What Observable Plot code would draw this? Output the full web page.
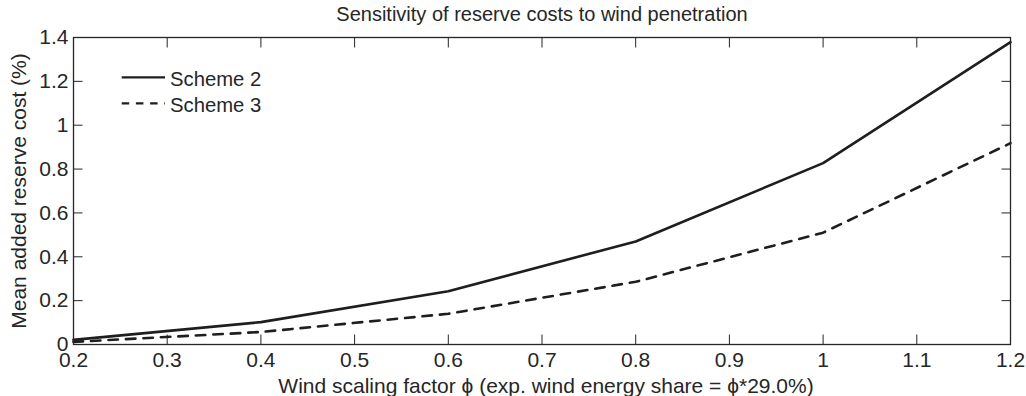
<!DOCTYPE html>
<html><head><meta charset="utf-8">
<script src="https://cdn.jsdelivr.net/npm/d3@7"></script>
<script src="https://cdn.jsdelivr.net/npm/@observablehq/plot@0.6"></script>
<style>
body{margin:0;background:#fff;}
#wrap{position:relative;width:1026px;height:396px;font-family:"Liberation Sans",Arial,Helvetica,sans-serif;color:#262626;}
</style></head><body><div id="wrap"></div>
<script>
const phi = [0.2, 0.4, 0.6, 0.8, 1.0, 1.2];
const scheme2 = [0.021, 0.102, 0.243, 0.470, 0.827, 1.379];
const scheme3 = [0.012, 0.057, 0.140, 0.286, 0.510, 0.918];
const seriesNames = ["Scheme 2", "Scheme 3"];
const xTicks = [0.2, 0.3, 0.4, 0.5, 0.6, 0.7, 0.8, 0.9, 1.0, 1.1, 1.2];
const yTicks = [0, 0.2, 0.4, 0.6, 0.8, 1.0, 1.2, 1.4];
const title = "Sensitivity of reserve costs to wind penetration";
const xLabel = "Wind scaling factor \u03D5 (exp. wind energy share = \u03D5*29.0%)";
const yLabel = "Mean added reserve cost (%)";

const ink = "#262626";
const lineInk = "#1e1e1e";
const dashes = {"Scheme 2": null, "Scheme 3": "9.5,8"};

const data = [];
phi.forEach((x, i) => {
  data.push({phi: x, cost: scheme2[i], series: seriesNames[0]});
  data.push({phi: x, cost: scheme3[i], series: seriesNames[1]});
});

const font = "'Liberation Sans', Arial, Helvetica, sans-serif";
const noText = () => "";

const chart = Plot.plot({
  width: 1026, height: 396,
  marginLeft: 73, marginRight: 16, marginTop: 37, marginBottom: 52,
  style: {fontFamily: font, fontSize: "21px", color: ink, background: "#fff", overflow: "visible"},
  x: {domain: [0.2, 1.2], label: null},
  y: {domain: [0, 1.4], label: null},
  marks: [
    Plot.axisX(xTicks, {anchor: "bottom", tickSize: 0, tickPadding: 8, fontSize: 21, tickFormat: d => d3.format("~g")(d), fill: ink}),
    Plot.axisX(xTicks, {anchor: "bottom", tickSize: -9.5, tickFormat: noText, stroke: ink}),
    Plot.axisX(xTicks, {anchor: "top", tickSize: -9.5, tickFormat: noText, stroke: ink}),
    Plot.axisY(yTicks, {anchor: "left", tickSize: 0, tickPadding: 5, fontSize: 21, tickFormat: d => d3.format("~g")(d), fill: ink}),
    Plot.axisY(yTicks, {anchor: "left", tickSize: -9.5, tickFormat: noText, stroke: ink}),
    Plot.axisY(yTicks, {anchor: "right", tickSize: -9.5, tickFormat: noText, stroke: ink}),
    ...seriesNames.map(name => Plot.line(data.filter(d => d.series === name), {
      x: "phi", y: "cost", stroke: lineInk, strokeWidth: 2.6,
      strokeDasharray: dashes[name]
    })),
    Plot.frame({stroke: ink, strokeWidth: 1.3}),
    Plot.text([title], {frameAnchor: "top", dy: -16.5, lineAnchor: "bottom", textAnchor: "middle", fontSize: 20, fill: ink}),
    Plot.text([xLabel], {frameAnchor: "bottom", dy: 48, dx: 4, lineAnchor: "bottom", textAnchor: "middle", fontSize: 21, fill: ink}),
    Plot.text([yLabel], {frameAnchor: "left", dx: -48, rotate: -90, lineAnchor: "bottom", textAnchor: "middle", fontSize: 21, fill: ink})
  ]
});
document.getElementById("wrap").appendChild(chart);

// legend overlay
const leg = d3.select("#wrap").append("svg")
  .attr("width", 180).attr("height", 60)
  .style("position", "absolute").style("left", "115px").style("top", "62px")
  .style("font-family", font);
const legDash = {"Scheme 2": null, "Scheme 3": "7.5,6.7"};
seriesNames.forEach((name, i) => {
  const y = 15.3 + i * 26;
  leg.append("line").attr("x1", 6.7).attr("x2", 50).attr("y1", y).attr("y2", y)
    .attr("stroke", lineInk).attr("stroke-width", 2.2)
    .attr("stroke-dasharray", legDash[name]);
  leg.append("text").attr("x", 55).attr("y", y + 8.7).attr("font-size", 20.3)
    .attr("fill", ink).text(name);
});
</script></body></html>
